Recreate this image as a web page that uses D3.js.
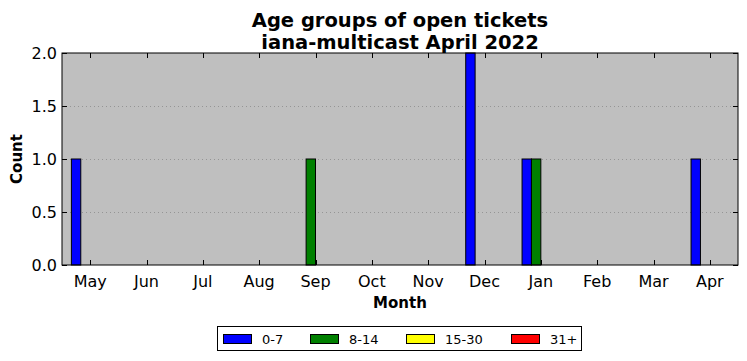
<!DOCTYPE html>
<html><head><meta charset="utf-8">
<script src="https://cdn.jsdelivr.net/npm/d3@7"></script>
<style>body{margin:0;background:#fff}svg{display:block;font-family:"DejaVu Sans",sans-serif}</style>
</head><body><svg id="c" width="747" height="361"></svg>
<script>
const monthLabels = ["May","Jun","Jul","Aug","Sep","Oct","Nov","Dec","Jan","Feb","Mar","Apr"];
const seriesNames = ["0-7","8-14","15-30","31+"];
const seriesColors = ["#0000ff","#008000","#ffff00","#ff0000"];
const age0_7 = [1,0,0,0,0,0,0,2,1,0,0,1];
const age8_14 = [0,0,0,0,1,0,0,0,1,0,0,0];
const age15_30 = [0,0,0,0,0,0,0,0,0,0,0,0];
const age31p = [0,0,0,0,0,0,0,0,0,0,0,0];
const yTicks = [0,0.5,1.0,1.5,2.0];
const titleLines = ["Age groups of open tickets","iana-multicast April 2022"];

const series = [age0_7, age8_14, age15_30, age31p];
const svg = d3.select("#c");
const L=62,R=738,T=53,B=265;
const x = d3.scaleLinear().domain([-0.5, monthLabels.length-0.5]).range([L,R]);
const y = d3.scaleLinear().domain([0,2]).range([B,T]);
const bw = 1/6;

svg.append("rect").attr("x",L).attr("y",T).attr("width",R-L).attr("height",B-T).attr("fill","#bfbfbf");
// grid
svg.append("g").selectAll("line").data(yTicks.filter(v=>v>0&&v<2)).join("line")
 .attr("x1",L).attr("x2",R).attr("y1",d=>Math.round(y(d))+0.5).attr("y2",d=>Math.round(y(d))+0.5)
 .attr("stroke","#8a8a8a").attr("stroke-width",0.8).attr("stroke-dasharray","1,3");
// bars
series.forEach((s,si)=>{
  svg.append("g").selectAll("rect").data(s).join("rect")
   .attr("x",(d,i)=>x(i+(si-2)*bw))
   .attr("width",(d,i)=>x(i+(si-1)*bw)-x(i+(si-2)*bw))
   .attr("y",d=>y(d)).attr("height",d=>B-y(d))
   .attr("fill",seriesColors[si]).attr("stroke","#000").attr("stroke-width",1);
});
// axes ticks inward
const tk = svg.append("g").attr("stroke","#000").attr("stroke-width",1);
monthLabels.forEach((m,i)=>{
  const px=Math.round(x(i))+0.5;
  tk.append("line").attr("x1",px).attr("x2",px).attr("y1",B).attr("y2",B-5);
  tk.append("line").attr("x1",px).attr("x2",px).attr("y1",T).attr("y2",T+5);
});
yTicks.forEach(v=>{
  const py=Math.round(y(v))+0.5;
  tk.append("line").attr("x1",L).attr("x2",L+5).attr("y1",py).attr("y2",py);
  tk.append("line").attr("x1",R).attr("x2",R-5).attr("y1",py).attr("y2",py);
});
svg.append("rect").attr("x",L).attr("y",T).attr("width",R-L).attr("height",B-T).attr("fill","none").attr("stroke","#000").attr("stroke-width",1);
// tick labels
svg.append("g").selectAll("text").data(monthLabels).join("text")
 .attr("x",(d,i)=>x(i)).attr("y",B+21.5).attr("text-anchor","middle").attr("font-size",16)
 .text(d=>d);
svg.append("g").selectAll("text").data(yTicks).join("text")
 .attr("x",L-5).attr("y",d=>y(d)+6).attr("text-anchor","end").attr("font-size",16)
 .text(d=>d.toFixed(1));
// labels
svg.append("text").attr("x",(L+R)/2).attr("y",308).attr("text-anchor","middle").attr("font-size",15).attr("font-weight","bold").text("Month");
svg.append("text").attr("transform",`translate(22,${(T+B)/2}) rotate(-90)`).attr("text-anchor","middle").attr("font-size",15).attr("font-weight","bold").text("Count");
titleLines.forEach((t,i)=>svg.append("text").attr("x",(L+R)/2).attr("y",26.5+i*22).attr("text-anchor","middle").attr("font-size",19.5).attr("font-weight","bold").text(t));
// legend
const lg = svg.append("g");
lg.append("rect").attr("x",217.5).attr("y",326.5).attr("width",364).attr("height",24).attr("fill","#fff").attr("stroke","#000");
const lx=[223,310,406,511];
seriesNames.forEach((n,i)=>{
  lg.append("rect").attr("x",lx[i]+0.5).attr("y",334.5).attr("width",28).attr("height",9).attr("fill",seriesColors[i]).attr("stroke","#000");
  lg.append("text").attr("x",lx[i]+39).attr("y",343.5).attr("font-size",13).text(n);
});
</script></body></html>
